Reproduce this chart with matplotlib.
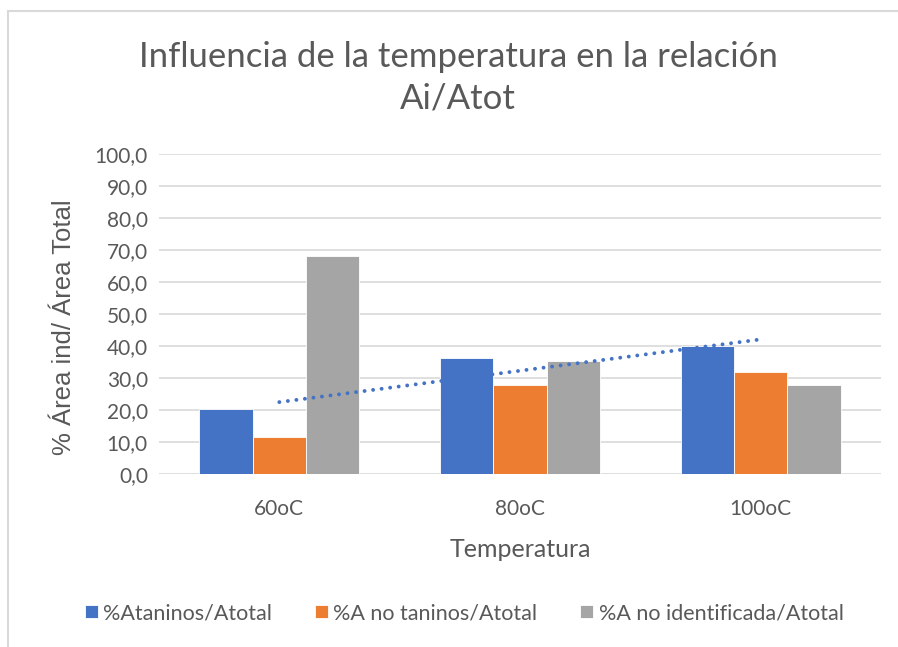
import numpy as np
import matplotlib.pyplot as plt
from matplotlib.patches import Rectangle

categorias = ["60oC", "80oC", "100oC"]
series = ["%Ataninos/Atotal", "%A no taninos/Atotal", "%A no identificada/Atotal"]
taninos = [20.4, 36.4, 40.0]
no_taninos = [11.6, 27.9, 31.8]
no_identificada = [68.0, 35.3, 27.9]
colores = ["#4472c4", "#ed7d31", "#a5a5a5"]

gris = "#595959"
plt.rcParams['font.family'] = ['Lato', 'DejaVu Sans']

fig = plt.figure(figsize=(8.98, 6.47), dpi=100)
ax = fig.add_axes([159 / 898, 1 - 474 / 647, (881 - 159) / 898, (474 - 154) / 647])

x = np.arange(len(categorias))
w = 0.222
for i, (vals, nombre) in enumerate(zip([taninos, no_taninos, no_identificada], series)):
    ax.bar(x + (i - 1) * w, vals, width=w, color=colores[i], label=nombre,
           edgecolor="white", linewidth=0.6, zorder=3)

# tendencia lineal de la serie de taninos
m, b = np.polyfit(x, taninos, 1)
ax.plot(x, m * x + b, color="#4472c4", lw=2.8, linestyle=(0, (0.01, 2.2)),
        dash_capstyle="round", zorder=4)

ax.set_xlim(-0.5, 2.5)
ax.set_ylim(0, 100)
ax.set_yticks(np.arange(0, 101, 10))
ax.set_yticklabels([f"{v:.1f}".replace(".", ",") for v in np.arange(0, 101, 10)])
ax.set_xticks(x)
ax.set_xticklabels(categorias)
ax.grid(axis="y", color="#d9d9d9", lw=1.2, zorder=0)
for s in ax.spines.values():
    s.set_visible(False)
ax.tick_params(length=0, labelsize=15, colors=gris, pad=8)
ax.tick_params(axis="x", pad=18)

ax.set_xlabel("Temperatura", fontsize=18, color=gris, labelpad=14)
ax.set_ylabel("% Área ind/ Área Total", fontsize=18.5, color=gris,
              fontfamily=['Liberation Sans', 'DejaVu Sans'])
ax.yaxis.set_label_coords(-0.115, 0.46)

fig.text(0.510, 1 - 78 / 647, "Influencia de la temperatura en la relación\nAi/Atot",
         ha="center", va="center", fontsize=25, color=gris, linespacing=1.35)

ax.legend(loc="center", bbox_to_anchor=(0.517, 1 - 613 / 647), bbox_transform=fig.transFigure,
          ncol=3, frameon=False, fontsize=15.5, labelcolor=gris, handlelength=0.6,
          handleheight=0.6, handletextpad=0.25, columnspacing=2.0)

fig.add_artist(Rectangle((7.5 / 898, -0.1), 1.2, 1.1 - 10.5 / 647,
                         transform=fig.transFigure, fill=False, edgecolor="#d9d9d9", lw=1.5))

fig.savefig("out.png", dpi=100)
